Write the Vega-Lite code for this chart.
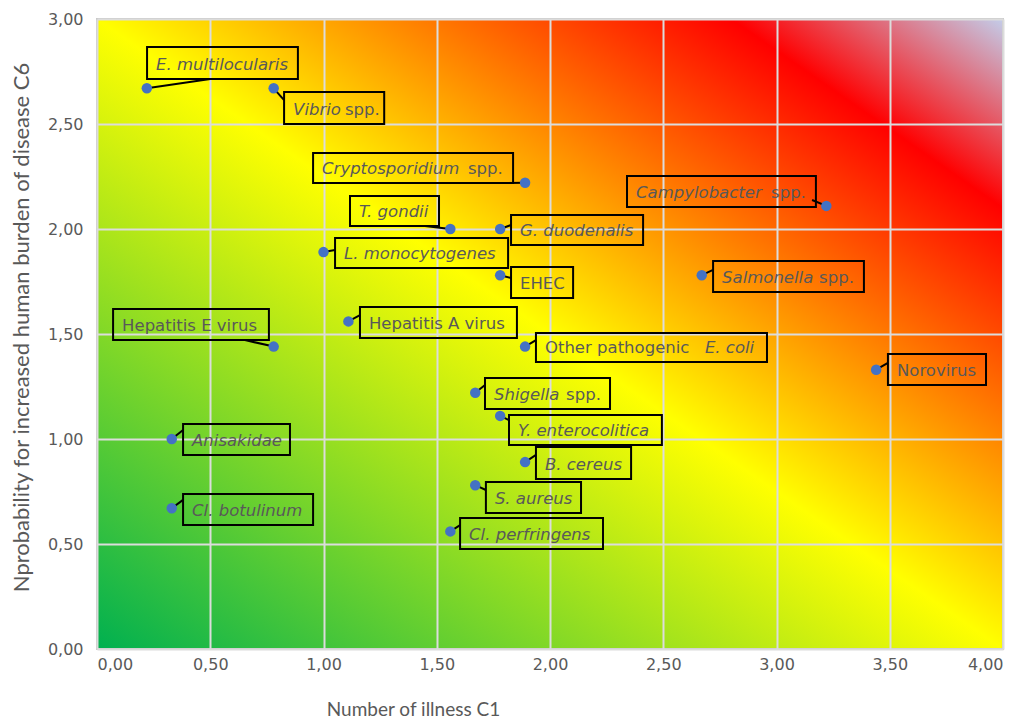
{
  "$schema": "https://vega.github.io/schema/vega-lite/v6.json",
  "width": 906,
  "height": 630,
  "autosize": {"type": "none"},
  "padding": {"left": 97, "top": 19, "right": 21, "bottom": 70},
  "background": "white",
  "view": {
    "fill": {"gradient": "linear", "x1": 0, "y1": 1, "x2": 1, "y2": 0,
      "stops": [
        {"offset": 0, "color": "#00B050"},
        {"offset": 0.5, "color": "#FFFF00"},
        {"offset": 0.85, "color": "#FF0000"},
        {"offset": 1, "color": "#C3CDEA"}
      ]},
    "stroke": "#C8C8C8",
    "strokeWidth": 2
  },
  "config": {
    "locale": {"number": {"decimal": ",", "thousands": " ", "grouping": [3], "currency": ["", " €"]}},
    "axis": {
      "grid": true, "gridColor": "#DCDCDC", "gridWidth": 2,
      "ticks": false, "domain": false,
      "labelFont": "DejaVu Sans", "labelFontSize": 16, "labelColor": "#595959",
      "titleFont": "Lato", "titleFontSize": 19, "titleFontWeight": "normal", "titleColor": "#595959"
    }
  },
  "data": {"values": [
    {"x":0.22,"y":2.67,"cx":0.50,"cy":2.714,"bx1":0.221,"bx2":0.887,"by1":2.867,"by2":2.714,"il":"E. multilocularis"},
    {"x":0.78,"y":2.67,"cx":0.826,"cy":2.614,"bx1":0.826,"bx2":1.268,"by1":2.652,"by2":2.5,"il":"Vibrio","rr":"spp.","sx":1.095},
    {"x":1.89,"y":2.22,"cx":1.80,"cy":2.219,"bx1":0.954,"bx2":1.837,"by1":2.362,"by2":2.219,"il":"Cryptosporidium","rr":"spp.","sx":1.638},
    {"x":1.56,"y":2.0,"cx":1.448,"cy":2.014,"bx1":1.117,"bx2":1.510,"by1":2.157,"by2":2.014,"il":"T. gondii"},
    {"x":1.78,"y":2.0,"cx":1.828,"cy":2.019,"bx1":1.828,"bx2":2.411,"by1":2.067,"by2":1.924,"il":"G. duodenalis"},
    {"x":1.0,"y":1.89,"cx":1.051,"cy":1.9,"bx1":1.051,"bx2":1.815,"by1":1.957,"by2":1.814,"il":"L. monocytogenes"},
    {"x":1.78,"y":1.78,"cx":1.828,"cy":1.767,"bx1":1.828,"bx2":2.102,"by1":1.819,"by2":1.671,"rl":"EHEC"},
    {"x":3.22,"y":2.11,"cx":3.157,"cy":2.138,"bx1":2.340,"bx2":3.174,"by1":2.252,"by2":2.105,"il":"Campylobacter","rr":"spp.","sx":2.976},
    {"x":2.67,"y":1.78,"cx":2.72,"cy":1.805,"bx1":2.720,"bx2":3.386,"by1":1.848,"by2":1.700,"il":"Salmonella","rr":"spp.","sx":3.188},
    {"x":1.89,"y":1.44,"cx":1.938,"cy":1.471,"bx1":1.938,"bx2":2.958,"by1":1.505,"by2":1.367,"rl":"Other pathogenic","ir":"E. coli","sx":2.684},
    {"x":3.44,"y":1.33,"cx":3.492,"cy":1.362,"bx1":3.492,"bx2":3.925,"by1":1.405,"by2":1.257,"rl":"Norovirus"},
    {"x":0.78,"y":1.44,"cx":0.653,"cy":1.471,"bx1":0.071,"bx2":0.759,"by1":1.619,"by2":1.471,"rl":"Hepatitis E virus"},
    {"x":1.11,"y":1.56,"cx":1.161,"cy":1.590,"bx1":1.161,"bx2":1.854,"by1":1.629,"by2":1.481,"rl":"Hepatitis A virus"},
    {"x":1.67,"y":1.22,"cx":1.713,"cy":1.257,"bx1":1.713,"bx2":2.265,"by1":1.290,"by2":1.143,"il":"Shigella","rr":"spp.","sx":2.071},
    {"x":1.78,"y":1.11,"cx":1.819,"cy":1.09,"bx1":1.819,"bx2":2.494,"by1":1.114,"by2":0.971,"il":"Y. enterocolitica"},
    {"x":1.89,"y":0.89,"cx":1.938,"cy":0.924,"bx1":1.938,"bx2":2.358,"by1":0.962,"by2":0.810,"il":"B. cereus"},
    {"x":0.33,"y":1.0,"cx":0.380,"cy":1.043,"bx1":0.380,"bx2":0.852,"by1":1.071,"by2":0.924,"il":"Anisakidae"},
    {"x":1.67,"y":0.78,"cx":1.717,"cy":0.757,"bx1":1.717,"bx2":2.137,"by1":0.795,"by2":0.648,"il":"S. aureus"},
    {"x":0.33,"y":0.67,"cx":0.380,"cy":0.710,"bx1":0.380,"bx2":0.954,"by1":0.738,"by2":0.590,"il":"Cl. botulinum"},
    {"x":1.56,"y":0.56,"cx":1.603,"cy":0.590,"bx1":1.603,"bx2":2.234,"by1":0.624,"by2":0.476,"il":"Cl. perfringens"}
  ]},
  "layer": [
    {
      "mark": {"type": "rule", "color": "black", "strokeWidth": 2},
      "encoding": {
        "x": {"field": "x", "type": "quantitative",
          "scale": {"domain": [0, 4], "nice": false, "zero": false},
          "axis": {"values": [0, 0.5, 1, 1.5, 2, 2.5, 3, 3.5, 4], "format": ".2f", "labelPadding": 7,
            "title": "Number of illness C1", "titleX": 316, "titleY": 60, "titleAlign": "center", "titleBaseline": "middle"}},
        "y": {"field": "y", "type": "quantitative",
          "scale": {"domain": [0, 3], "nice": false, "zero": false},
          "axis": {"values": [0, 0.5, 1, 1.5, 2, 2.5, 3], "format": ".2f", "labelPadding": 14,
            "title": "Nprobability for increased human burden of disease C6", "titleFontSize": 22, "titleX": -76, "titleY": 308, "titleAlign": "center", "titleBaseline": "middle", "titleAngle": -90}},
        "x2": {"field": "cx"},
        "y2": {"field": "cy"}
      }
    },
    {
      "mark": {"type": "rect", "fill": "white", "fillOpacity": 0, "stroke": "black", "strokeWidth": 2},
      "encoding": {
        "x": {"field": "bx1", "type": "quantitative"},
        "x2": {"field": "bx2"},
        "y": {"field": "by1", "type": "quantitative"},
        "y2": {"field": "by2"}
      }
    },
    {
      "mark": {"type": "circle", "color": "#4472C4", "opacity": 1, "size": 110},
      "encoding": {
        "x": {"field": "x", "type": "quantitative"},
        "y": {"field": "y", "type": "quantitative"}
      }
    },
    {
      "transform": [{"filter": "datum.il"}],
      "mark": {"type": "text", "align": "left", "baseline": "alphabetic", "dx": 9, "dy": -9, "font": "DejaVu Sans", "fontSize": 16.5, "fontStyle": "italic", "color": "#595959"},
      "encoding": {
        "x": {"field": "bx1", "type": "quantitative"},
        "y": {"field": "by2", "type": "quantitative"},
        "text": {"field": "il"}
      }
    },
    {
      "transform": [{"filter": "datum.rl"}],
      "mark": {"type": "text", "align": "left", "baseline": "alphabetic", "dx": 9, "dy": -9, "font": "DejaVu Sans", "fontSize": 16.5, "color": "#595959"},
      "encoding": {
        "x": {"field": "bx1", "type": "quantitative"},
        "y": {"field": "by2", "type": "quantitative"},
        "text": {"field": "rl"}
      }
    },
    {
      "transform": [{"filter": "datum.rr"}],
      "mark": {"type": "text", "align": "left", "baseline": "alphabetic", "dy": -9, "font": "DejaVu Sans", "fontSize": 16.5, "color": "#595959"},
      "encoding": {
        "x": {"field": "sx", "type": "quantitative"},
        "y": {"field": "by2", "type": "quantitative"},
        "text": {"field": "rr"}
      }
    },
    {
      "transform": [{"filter": "datum.ir"}],
      "mark": {"type": "text", "align": "left", "baseline": "alphabetic", "dy": -9, "font": "DejaVu Sans", "fontSize": 16.5, "fontStyle": "italic", "color": "#595959"},
      "encoding": {
        "x": {"field": "sx", "type": "quantitative"},
        "y": {"field": "by2", "type": "quantitative"},
        "text": {"field": "ir"}
      }
    }
  ]
}
